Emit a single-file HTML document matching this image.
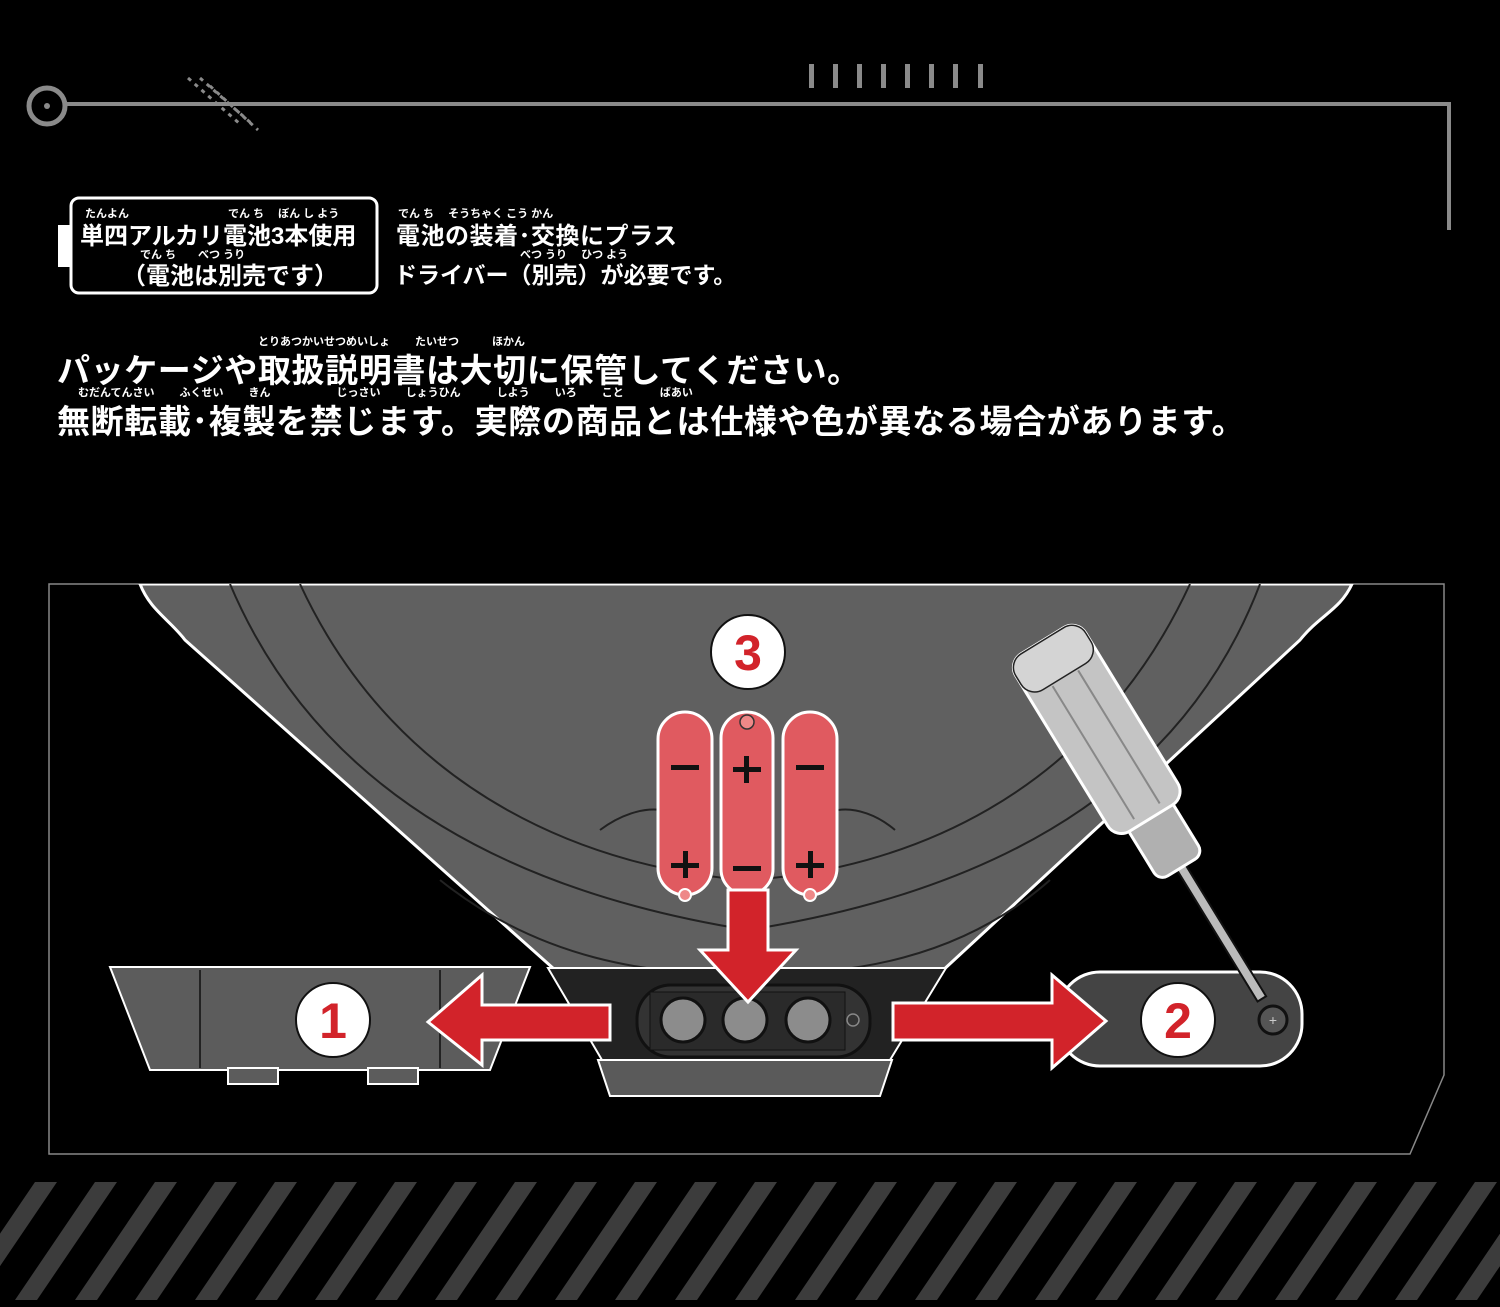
<!DOCTYPE html>
<html><head><meta charset="utf-8"><style>
html,body{margin:0;padding:0;background:#000;}
body{width:1500px;height:1307px;position:relative;overflow:hidden;font-family:"Liberation Sans","Noto Sans CJK JP",sans-serif;color:#fff;}
.t{position:absolute;white-space:nowrap;font-weight:bold;}
.r{position:absolute;white-space:nowrap;font-size:11px;font-weight:bold;}
</style></head><body>
<svg width="1500" height="1307" style="position:absolute;left:0;top:0">
<defs><clipPath id="fr"><polygon points="49,584 1444,584 1444,1075 1410,1154 49,1154"/></clipPath></defs>
<circle cx="47" cy="106" r="18" fill="none" stroke="#8a8a8a" stroke-width="5"/>
<circle cx="47" cy="106" r="3" fill="#8a8a8a"/>
<polyline points="66,104 1449,104 1449,230" fill="none" stroke="#8a8a8a" stroke-width="4"/>
<g stroke="#8a8a8a" stroke-width="3" stroke-dasharray="4,5">
<line x1="188" y1="78" x2="240" y2="124"/><line x1="200" y1="78" x2="252" y2="124"/><line x1="210" y1="86" x2="258" y2="130"/></g>
<g fill="#8a8a8a"><rect x="809" y="64" width="5" height="24"/><rect x="833" y="64" width="5" height="24"/><rect x="857" y="64" width="5" height="24"/><rect x="881" y="64" width="5" height="24"/><rect x="905" y="64" width="5" height="24"/><rect x="929" y="64" width="5" height="24"/><rect x="953" y="64" width="5" height="24"/><rect x="978" y="64" width="5" height="24"/></g>
<rect x="71" y="198" width="306" height="95" rx="8" fill="none" stroke="#fff" stroke-width="3"/>
<rect x="58" y="225" width="12" height="42" fill="#fff"/>
<polygon points="49,584 1444,584 1444,1075 1410,1154 49,1154" fill="#000" stroke="#888" stroke-width="1.5"/>
<g clip-path="url(#fr)">
<path d="M140,584 C150,610 170,620 185,640 L600,1010 L900,1010 L1300,640 C1320,615 1340,610 1352,584 Z" fill="#606060" stroke="#fff" stroke-width="3"/>
<g fill="none" stroke="#222" stroke-width="2">
<path d="M230,584 C330,820 560,900 748,930 C940,900 1170,820 1260,584"/>
<path d="M300,584 C400,800 600,870 748,880 C900,870 1090,800 1190,584"/>
<path d="M600,830 C640,800 690,800 700,850 M895,830 C860,800 810,800 800,850"/>
<path d="M440,880 C540,960 650,975 748,975 C850,975 960,960 1050,880"/>
</g>
</g>
<polygon points="548,968 946,968 890,1060 602,1060" fill="#222" stroke="#fff" stroke-width="2"/>
<polygon points="598,1060 892,1060 880,1096 610,1096" fill="#5a5a5a" stroke="#fff" stroke-width="2"/>
<rect x="637" y="985" width="233" height="72" rx="34" fill="#333" stroke="#111" stroke-width="3"/>
<rect x="650" y="992" width="195" height="58" fill="#2a2a2a" stroke="#111"/>
<circle cx="683" cy="1020" r="22" fill="#8c8c8c" stroke="#111" stroke-width="3"/>
<circle cx="745" cy="1020" r="22" fill="#8c8c8c" stroke="#111" stroke-width="3"/>
<circle cx="808" cy="1020" r="22" fill="#8c8c8c" stroke="#111" stroke-width="3"/>
<circle cx="853" cy="1020" r="6" fill="none" stroke="#888" stroke-width="1.5"/>
<polygon points="110,967 530,967 490,1070 150,1070" fill="#5c5c5c" stroke="#fff" stroke-width="2"/>
<line x1="200" y1="970" x2="200" y2="1068" stroke="#222" stroke-width="2"/>
<line x1="440" y1="970" x2="440" y2="1068" stroke="#222" stroke-width="2"/>
<rect x="228" y="1068" width="50" height="16" fill="#5c5c5c" stroke="#fff" stroke-width="2"/>
<rect x="368" y="1068" width="50" height="16" fill="#5c5c5c" stroke="#fff" stroke-width="2"/>
<rect x="1058" y="972" width="244" height="94" rx="42" fill="#444" stroke="#fff" stroke-width="3"/>
<circle cx="1273" cy="1020" r="14" fill="#555" stroke="#111" stroke-width="3"/>
<text x="1273" y="1025" font-size="14" fill="#ccc" text-anchor="middle">+</text>
<!-- screwdriver -->
<g transform="rotate(-31.5 1045 645)">
<rect x="1040" y="900" width="10" height="160" fill="#bbb" stroke="#111" stroke-width="2"/>
<rect x="1019" y="840" width="52" height="66" rx="10" fill="#b0b0b0" stroke="#fff" stroke-width="3"/>
<rect x="1004" y="640" width="82" height="208" rx="16" fill="#c4c4c4" stroke="#fff" stroke-width="3"/>
<rect x="1004" y="640" width="82" height="42" rx="16" fill="#d4d4d4" stroke="#222" stroke-width="1.5"/>
<line x1="1030" y1="684" x2="1030" y2="840" stroke="#888" stroke-width="2"/>
<line x1="1060" y1="684" x2="1060" y2="840" stroke="#888" stroke-width="2"/>
</g>
<g stroke="#fff" stroke-width="3">
<rect x="658" y="712" width="54" height="183" rx="27" fill="#e05a60"/>
<rect x="721" y="712" width="52" height="183" rx="26" fill="#e05a60"/>
<rect x="783" y="712" width="54" height="183" rx="27" fill="#e05a60"/>
</g>
<circle cx="747" cy="722" r="7" fill="#e88" stroke="#333" stroke-width="1.5"/>
<circle cx="685" cy="895" r="6" fill="#e88" stroke="#fff" stroke-width="2"/>
<circle cx="810" cy="895" r="6" fill="#e88" stroke="#fff" stroke-width="2"/>
<g fill="#111"><rect x="671" y="765" width="28" height="5"/><rect x="796" y="765" width="28" height="5"/><rect x="733" y="767" width="28" height="5"/><rect x="744" y="756" width="5" height="27"/>
<rect x="671" y="863" width="28" height="5"/><rect x="683" y="851" width="5" height="27"/><rect x="796" y="863" width="28" height="5"/><rect x="808" y="851" width="5" height="27"/><rect x="733" y="866" width="28" height="5"/></g>
<g fill="#d2232a" stroke="#fff" stroke-width="3">
<polygon points="728,890 768,890 768,950 796,950 748,1002 700,950 728,950"/>
<polygon points="610,1005 610,1040 482,1040 482,1065 428,1022 482,975 482,1005"/>
<polygon points="893,1003 893,1040 1052,1040 1052,1068 1106,1021 1052,975 1052,1003"/>
</g>
<g fill="#fff" stroke="#111" stroke-width="2"><circle cx="333" cy="1020" r="37"/><circle cx="1178" cy="1020" r="37"/><circle cx="748" cy="652" r="37"/></g>
<g fill="#d2232a" font-size="50" font-weight="bold" text-anchor="middle" font-family="Liberation Sans,sans-serif">
<text x="333" y="1038">1</text><text x="1178" y="1038">2</text><text x="748" y="670">3</text></g>
<g fill="#3c3c3c">
<polygon points="35,1182 57,1182 -23,1300 -45,1300"/>
<polygon points="95,1182 117,1182 37,1300 15,1300"/>
<polygon points="155,1182 177,1182 97,1300 75,1300"/>
<polygon points="215,1182 237,1182 157,1300 135,1300"/>
<polygon points="275,1182 297,1182 217,1300 195,1300"/>
<polygon points="335,1182 357,1182 277,1300 255,1300"/>
<polygon points="395,1182 417,1182 337,1300 315,1300"/>
<polygon points="455,1182 477,1182 397,1300 375,1300"/>
<polygon points="515,1182 537,1182 457,1300 435,1300"/>
<polygon points="575,1182 597,1182 517,1300 495,1300"/>
<polygon points="635,1182 657,1182 577,1300 555,1300"/>
<polygon points="695,1182 717,1182 637,1300 615,1300"/>
<polygon points="755,1182 777,1182 697,1300 675,1300"/>
<polygon points="815,1182 837,1182 757,1300 735,1300"/>
<polygon points="875,1182 897,1182 817,1300 795,1300"/>
<polygon points="935,1182 957,1182 877,1300 855,1300"/>
<polygon points="995,1182 1017,1182 937,1300 915,1300"/>
<polygon points="1055,1182 1077,1182 997,1300 975,1300"/>
<polygon points="1115,1182 1137,1182 1057,1300 1035,1300"/>
<polygon points="1175,1182 1197,1182 1117,1300 1095,1300"/>
<polygon points="1235,1182 1257,1182 1177,1300 1155,1300"/>
<polygon points="1295,1182 1317,1182 1237,1300 1215,1300"/>
<polygon points="1355,1182 1377,1182 1297,1300 1275,1300"/>
<polygon points="1415,1182 1437,1182 1357,1300 1335,1300"/>
<polygon points="1475,1182 1497,1182 1417,1300 1395,1300"/>
<polygon points="1535,1182 1557,1182 1477,1300 1455,1300"/>
</g>
</svg>
<div class="r" style="left:85px;top:205px;">たんよん</div>
<div class="r" style="left:228px;top:205px;">でん ち　 ぼん し よう</div>
<div class="t" style="left:80px;top:216px;font-size:24px;">単四アルカリ電池3本使用</div>
<div class="r" style="left:140px;top:246px;">でん ち　　べつ うり</div>
<div class="t" style="left:122px;top:256px;font-size:24px;">（電池は別売です）</div>
<div class="r" style="left:398px;top:205px;">でん ち　 そうちゃく こう かん</div>
<div class="t" style="left:396px;top:216px;font-size:24px;letter-spacing:0.5px;">電池の装着･交換にプラス</div>
<div class="r" style="left:520px;top:246px;">べつ うり　  ひつ よう</div>
<div class="t" style="left:394px;top:256px;font-size:23px;">ドライバー（別売）が必要です。</div>
<div class="r" style="left:258px;top:333px;">とりあつかいせつめいしょ　　 たいせつ　　　ほかん</div>
<div class="t" style="left:57px;top:344px;font-size:33px;letter-spacing:0.6px;">パッケージや取扱説明書は大切に保管してください。</div>
<div class="r" style="left:78px;top:384px;">むだんてんさい　　 ふくせい　　 きん　　　　　　じっさい　　 しょうひん　　　 しよう　　 いろ　　 こと　　　 ばあい</div>
<div class="t" style="left:57px;top:395px;font-size:33px;letter-spacing:0.65px;">無断転載･複製を禁じます。実際の商品とは仕様や色が異なる場合があります。</div>
</body></html>
